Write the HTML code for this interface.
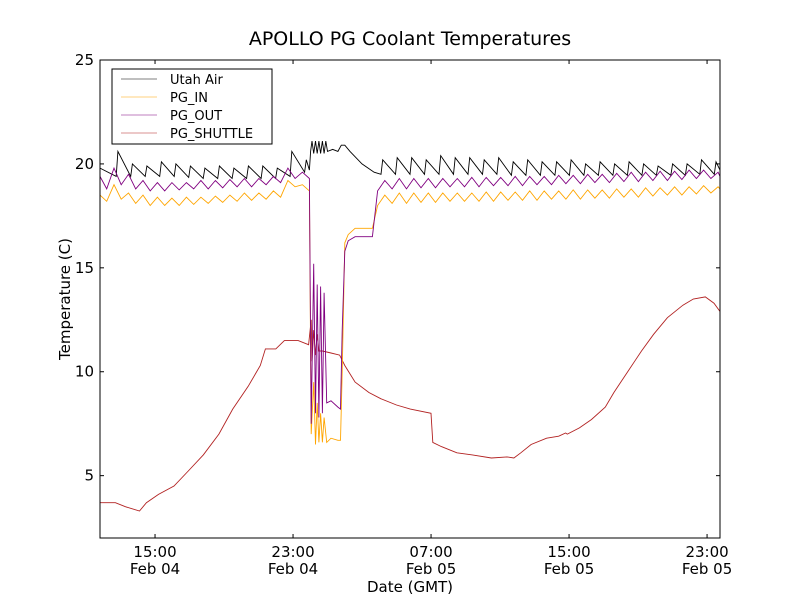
<!DOCTYPE html>
<html><head><meta charset="utf-8"><style>
body{margin:0;background:#fff;}
svg text{font-family:"DejaVu Sans","Liberation Sans",sans-serif;}
</style></head><body>
<svg id="chart" width="800" height="600" xmlns="http://www.w3.org/2000/svg">
<rect x="0" y="0" width="800" height="600" fill="#fff"/>
<text x="410" y="45" font-size="19" text-anchor="middle">APOLLO PG Coolant Temperatures</text>
<g id="plot"></g>
<rect x="100" y="60" width="620" height="478" fill="none" stroke="#000" stroke-width="1"/>
<g id="axes"></g>
<text x="410" y="592" font-size="15" text-anchor="middle">Date (GMT)</text>
<text x="70" y="299" font-size="15" text-anchor="middle" transform="rotate(-90 70 299)">Temperature (C)</text>
<g>
<rect x="112" y="69" width="160" height="75" fill="#fff" stroke="#000" stroke-width="1"/>
<line x1="121" y1="79" x2="157" y2="79" stroke="#000" stroke-width="0.6"/>
<text x="170" y="84" font-size="13">Utah Air</text>
<line x1="121" y1="97" x2="157" y2="97" stroke="#ffa500" stroke-width="0.6"/>
<text x="170" y="102" font-size="13">PG_IN</text>
<line x1="121" y1="115" x2="157" y2="115" stroke="#800080" stroke-width="0.6"/>
<text x="170" y="120" font-size="13">PG_OUT</text>
<line x1="121" y1="133" x2="157" y2="133" stroke="#b22222" stroke-width="0.6"/>
<text x="170" y="138" font-size="13">PG_SHUTTLE</text>
</g>
</svg>
<script>
// hours since Feb 04 00:00
const yTicks = [5,10,15,20,25];
const xTickHours = [15,23,31,39,47];
const xTickTime = ["15:00","23:00","07:00","15:00","23:00"];
const xTickDate = ["Feb 04","Feb 04","Feb 05","Feb 05","Feb 05"];

const airT = [11.81,12.75,12.85,13.59,13.69,14.43,14.53,15.27,15.37,16.11,16.21,16.95,17.05,17.79,17.89,18.63,18.73,19.47,19.57,20.31,20.41,21.15,21.25,21.99,22.09,22.83,22.93,23.67,23.77,23.95,
 24.02,24.1,24.2,24.3,24.4,24.5,24.6,24.7,24.8,24.9,25.0,25.3,25.6,25.8,26.0,26.3,27.0,27.7,
 28.1,28.2,28.94,29.04,29.78,29.88,30.62,30.72,31.46,31.56,32.3,32.4,33.14,33.24,33.98,34.08,34.82,34.92,35.66,35.76,36.5,36.6,37.34,37.44,38.18,38.28,39.02,39.12,39.86,39.96,40.7,40.8,41.54,41.64,42.38,42.48,43.22,43.32,44.06,44.16,44.9,45.0,45.74,45.84,46.58,46.68,47.42,47.52,47.75];
const airV = [19.8,19.4,20.6,19.4,20.0,19.4,19.9,19.4,20.1,19.4,20.0,19.35,19.9,19.3,19.8,19.3,19.9,19.3,19.8,19.3,19.9,19.3,19.9,19.3,19.8,19.4,20.6,19.6,20.2,19.7,
 20.6,21.1,20.5,21.1,20.5,21.1,20.5,21.1,20.5,21.1,20.6,20.7,20.6,20.9,20.9,20.6,20.0,19.6,
 19.5,20.2,19.5,20.3,19.5,20.3,19.5,20.2,19.5,20.4,19.5,20.3,19.5,20.3,19.5,20.2,19.5,20.3,19.45,20.1,19.45,20.2,19.45,20.1,19.45,20.1,19.45,20.2,19.45,20.0,19.45,20.1,19.45,20.0,19.45,20.1,19.45,20.0,19.45,19.9,19.45,20.0,19.45,20.0,19.5,20.2,19.5,20.1,19.7];

const pgT = [11.81,12.2,12.62,13.04,13.46,13.88,14.3,14.72,15.14,15.56,15.98,16.4,16.82,17.24,17.66,18.08,18.5,18.92,19.34,19.76,20.18,20.6,21.02,21.44,21.86,22.28,22.7,23.12,23.54,23.95,
 24.05,24.2,24.3,24.4,24.5,24.6,24.7,24.8,24.95,25.2,25.6,25.75,25.85,26.0,26.2,26.6,27.3,27.6,
 27.9,28.32,28.74,29.16,29.58,30.0,30.42,30.84,31.26,31.68,32.1,32.52,32.94,33.36,33.78,34.2,34.62,35.04,35.46,35.88,36.3,36.72,37.14,37.56,37.98,38.4,38.82,39.24,39.66,40.08,40.5,40.92,41.34,41.76,42.18,42.6,43.02,43.44,43.86,44.28,44.7,45.12,45.54,45.96,46.38,46.8,47.22,47.64,47.75];
const outV = [19.4,18.8,19.8,19.0,19.5,18.8,19.2,18.7,19.1,18.7,19.1,18.75,19.1,18.8,19.2,18.8,19.2,18.85,19.25,18.9,19.3,18.9,19.3,19.0,19.4,19.1,19.8,19.3,19.6,19.3,
 7.5,15.2,8.0,14.2,7.8,14.1,8.0,13.8,8.5,8.6,8.3,8.2,12.0,15.8,16.3,16.5,16.5,16.5,
 18.7,19.2,18.8,19.3,18.8,19.3,18.85,19.3,18.85,19.3,18.9,19.3,18.9,19.35,18.9,19.35,18.95,19.35,18.95,19.4,18.95,19.4,19.0,19.4,19.0,19.45,19.05,19.45,19.05,19.5,19.1,19.5,19.1,19.55,19.15,19.6,19.15,19.6,19.2,19.65,19.2,19.65,19.25,19.7,19.3,19.7,19.3,19.6,19.4];
const inV = [18.5,18.2,19.0,18.3,18.6,18.1,18.5,18.0,18.4,18.0,18.35,18.0,18.4,18.05,18.4,18.1,18.45,18.15,18.5,18.2,18.6,18.25,18.6,18.3,18.7,18.4,19.2,18.9,19.0,18.7,
 7.0,9.5,6.5,8.5,6.6,8.0,6.6,7.8,6.6,6.8,6.7,6.7,10.0,16.2,16.6,16.9,16.9,16.9,
 18.0,18.5,18.1,18.6,18.1,18.6,18.15,18.6,18.15,18.6,18.2,18.6,18.2,18.6,18.2,18.65,18.2,18.65,18.25,18.65,18.25,18.7,18.25,18.7,18.3,18.7,18.3,18.75,18.3,18.75,18.35,18.75,18.35,18.8,18.4,18.8,18.4,18.85,18.45,18.85,18.5,18.9,18.5,18.9,18.55,18.95,18.6,18.9,18.8];

const shT = [11.81,12.7,13.3,14.1,14.5,15.2,16.1,16.9,17.8,18.7,19.5,20.4,21.1,21.4,22.0,22.5,23.3,23.9,24.05,24.1,24.2,24.3,24.4,24.5,24.7,25.2,25.7,26.0,26.6,27.4,28.1,29.0,29.8,31.0,31.1,31.6,32.5,33.4,34.5,35.4,35.8,36.2,36.8,37.7,38.4,38.8,38.9,39.6,40.3,41.1,41.6,42.4,43.2,43.9,44.7,45.6,46.2,46.9,47.4,47.75];
const shV = [3.7,3.7,3.5,3.3,3.7,4.1,4.5,5.2,6.0,7.0,8.2,9.3,10.3,11.1,11.1,11.5,11.5,11.3,12.5,10.5,12.0,10.8,11.8,11.0,11.0,10.9,10.8,10.3,9.5,9.0,8.7,8.4,8.2,8.0,6.6,6.4,6.1,6.0,5.85,5.9,5.85,6.1,6.5,6.8,6.9,7.05,7.0,7.3,7.7,8.3,9.0,10.0,11.0,11.8,12.6,13.2,13.5,13.6,13.3,12.9];

const X0=100,X1=720,Y0=538,Y1=60,H0=11.81,H1=47.75,V0=2,V1=25;
function sx(h){return X0+(h-H0)/(H1-H0)*(X1-X0);}
function sy(v){return Y0-(v-V0)/(V1-V0)*(Y0-Y1);}
const NS="http://www.w3.org/2000/svg";
const plot=document.getElementById('plot'), axes=document.getElementById('axes');
function line(T,V,color,name){
  const p=document.createElementNS(NS,'polyline');
  p.setAttribute('points',T.map((t,i)=>sx(t).toFixed(1)+','+sy(V[i]).toFixed(1)).join(' '));
  p.setAttribute('fill','none');p.setAttribute('stroke',color);p.setAttribute('stroke-width','0.9');
  
  
  plot.appendChild(p);
}
line(airT,airV,'#000','series-utah-air');
line(shT,shV,'#b22222','series-pg-shuttle');
line(pgT,inV,'#ffa500','series-pg-in');
line(pgT,outV,'#800080','series-pg-out');
function mk(tag,attrs,txt){const e=document.createElementNS(NS,tag);for(const k in attrs)e.setAttribute(k,attrs[k]);if(txt)e.textContent=txt;axes.appendChild(e);return e;}
yTicks.forEach(v=>{
  const y=sy(v);
  const a=mk('line',{x1:X0,y1:y,x2:X0+4,y2:y,stroke:'#000'});
  
  
  const b=mk('line',{x1:X1-4,y1:y,x2:X1,y2:y,stroke:'#000'});
  
  
  const t=mk('text',{x:X0-6,y:y+5,'font-size':15,'text-anchor':'end'},String(v));
  
  
});
xTickHours.forEach((h,i)=>{
  const x=sx(h);
  const a=mk('line',{x1:x,y1:Y0,x2:x,y2:Y0-4,stroke:'#000'});
  
  
  const b=mk('line',{x1:x,y1:Y1,x2:x,y2:Y1+4,stroke:'#000'});
  
  
  const t1=mk('text',{x:x,y:557,'font-size':15,'text-anchor':'middle'},xTickTime[i]);
  
  
  const t2=mk('text',{x:x,y:574,'font-size':15,'text-anchor':'middle'},xTickDate[i]);
  
  
});
</script>
</body></html>
